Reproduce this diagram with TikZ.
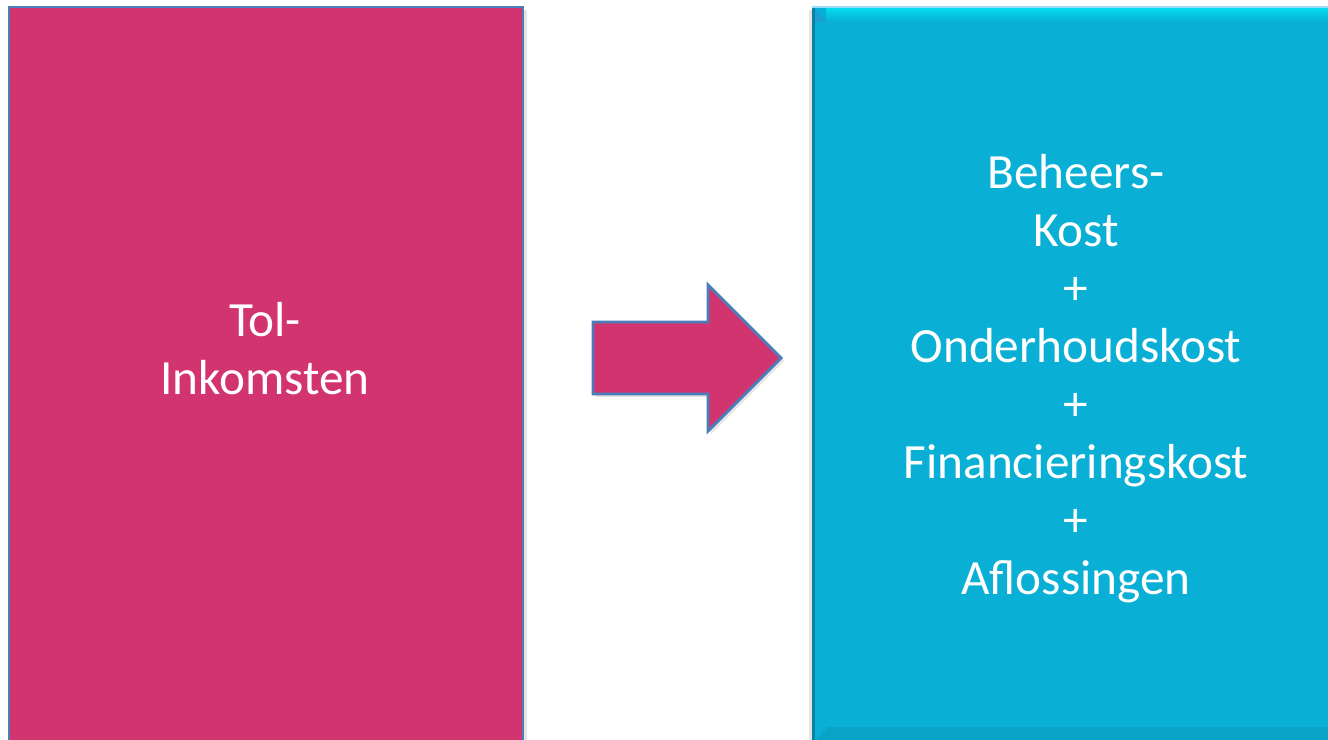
\documentclass[tikz,border=0pt]{standalone}
\usepackage{fontspec}
\setmainfont{Carlito}
\usepackage{tikz}
\usetikzlibrary{calc}
\definecolor{tolpink}{HTML}{D1346F}
\definecolor{kostcyan}{HTML}{09AFD4}
\definecolor{randblauw}{HTML}{4A7EBB}
\tikzset{
	boxtext/.style={text=white, align=center, font=\fontsize{14pt}{16.5pt}\selectfont},
	schaduw/.style={fill=black!30, opacity=0.35}
}

\begin{document}
\begin{tikzpicture}[x=0.01cm, y=-0.01cm]
		%%%%% START %%%%%
		\useasboundingbox (0, 0) rectangle (1328, 740);
		\clip (0, 0) rectangle (1328, 740);
		
		% tol-inkomsten
		\draw[schaduw, draw=none] (12, 10) rectangle (527, 750);
		\draw[line width=0.8pt, color=randblauw, fill=tolpink] (9, 7) rectangle (523, 750);
		\node[boxtext] (tol) at (265, 349) {Tol-\\Inkomsten};
		
		% pijl
		\draw[schaduw, draw=none] (596, 325) -- (711, 325) -- (711, 288) -- (784, 361) -- (711, 434) -- (711, 397) -- (596, 397) -- cycle;
		\draw[line width=0.8pt, color=randblauw, fill=tolpink, line join=miter] (593, 322) -- (708, 322) -- (708, 285) -- (781, 358) -- (708, 431) -- (708, 394) -- (593, 394) -- cycle;
		
		% kosten
		\draw[schaduw, draw=none] (809, 10) rectangle (1340, 750);
		\draw[fill=kostcyan, draw=none] (812, 7) rectangle (1340, 750);
		\shade[top color=cyan!55!kostcyan, bottom color=kostcyan] (826, 8) rectangle (1340, 22);
		\draw[fill=cyan!40!kostcyan, draw=none] (812, 7) -- (826, 21) -- (826, 22) -- (815, 22) -- (815, 7) -- cycle;
		\draw[fill=kostcyan!75!black, draw=none] (812, 7) rectangle (815, 740);
		\draw[fill=kostcyan!93!black, draw=none] (815, 740) -- (828, 727) -- (1340, 727) -- (1340, 740) -- cycle;
		\draw[line width=0.5pt, color=cyan!40!white] (812, 7) -- (1340, 7);
		\node[boxtext] (kost) at (1076, 379) {Beheers-\\Kost\\+\\Onderhoudskost\\+\\Financieringskost\\+\\Aflossingen};
		%%%%% END %%%%%
	\end{tikzpicture}
\end{document}
